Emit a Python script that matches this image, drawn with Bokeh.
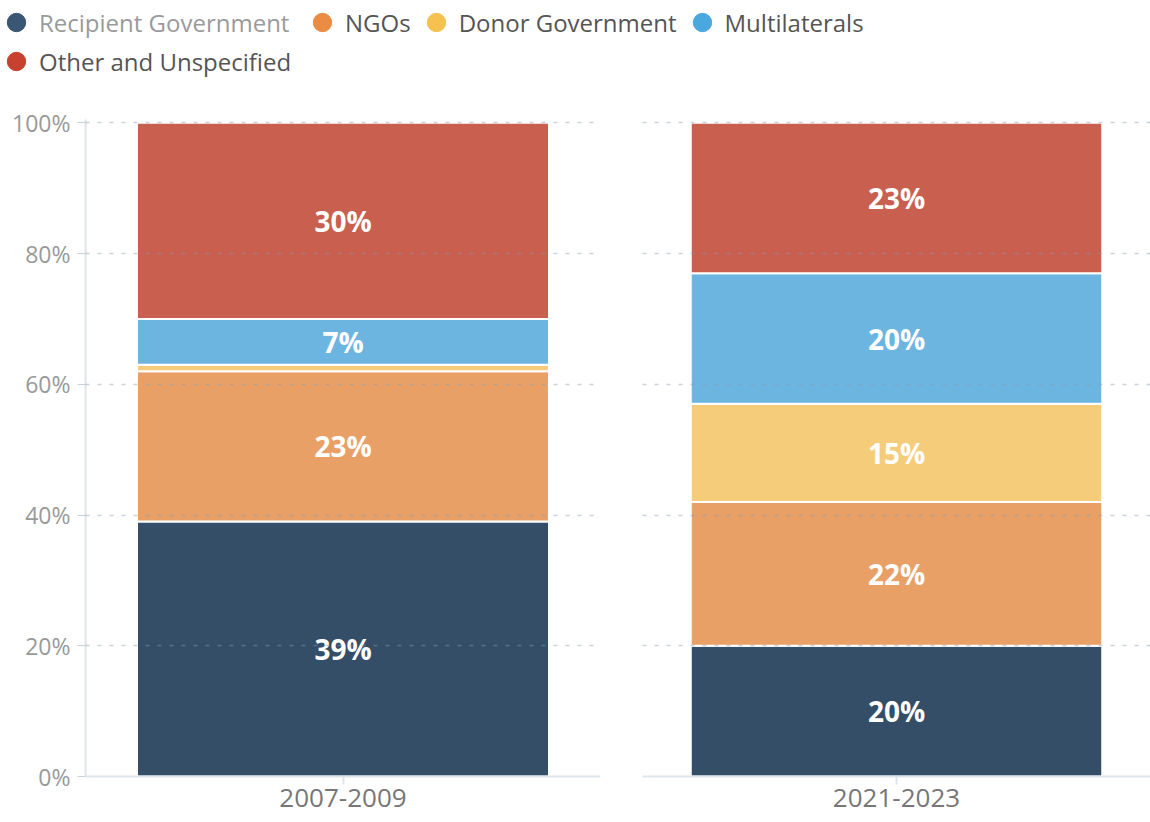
import numpy as np
from bokeh.plotting import figure
from bokeh.models import (ColumnDataSource, FactorRange, Range1d, Legend, LegendItem,
                          FixedTicker, PrintfTickFormatter)
from bokeh.layouts import column, row
from bokeh.embed import file_html
from bokeh.resources import INLINE
from bokeh.core.properties import value

# ---------------- data ----------------
periods = ["2007-2009", "2021-2023"]
series_names = ["Recipient Government", "NGOs", "Donor Government",
                "Multilaterals", "Other and Unspecified"]
series_keys = ["recipient", "ngos", "donor", "multilaterals", "other"]
recipient = [39, 20]
ngos = [23, 22]
donor = [1, 15]
multilaterals = [7, 20]
other = [30, 23]
y_ticks = [0, 20, 40, 60, 80, 100]

bar_colors = ["#344e68", "#e9a067", "#f5cd7a", "#6cb5e0", "#c85f4f"]
legend_colors = ["#3a5675", "#eb8c44", "#f5c24f", "#4aa8de", "#c8412e"]

FONT = "Open Sans"
GRID = "#8a9bb0"
AXIS = "#dfe5ec"

data = {"period": periods, "recipient": recipient, "ngos": ngos, "donor": donor,
        "multilaterals": multilaterals, "other": other}


def make_panel(idx, show_y, left_border, frame_w, bar_w):
    src = ColumnDataSource({k: [v[idx]] for k, v in data.items()})
    p = figure(x_range=FactorRange(factors=[periods[idx]]), y_range=Range1d(0, 100.5),
               frame_width=frame_w, frame_height=657,
               min_border_left=left_border, min_border_right=0,
               min_border_top=27, min_border_bottom=46,
               output_backend="svg", toolbar_location=None)
    p.outline_line_color = None
    p.background_fill_color = "white"
    p.border_fill_color = "white"

    p.vbar_stack(series_keys, x="period", width=bar_w, color=bar_colors,
                 line_color="white", line_width=2, source=src)

    vals = [data[k][idx] for k in series_keys]
    cum = np.cumsum([0] + vals)
    xs, ys, texts = [], [], []
    for i, v in enumerate(vals):
        if v >= 3:
            xs.append(periods[idx])
            ys.append((cum[i] + cum[i + 1]) / 2)
            texts.append(f"{v}%")
    lab = ColumnDataSource(dict(x=xs, y=ys, text=texts))
    p.text(x="x", y="y", text="text", source=lab, text_align="center",
           text_baseline="middle", text_color="white", text_font=value(FONT),
           text_font_style="bold", text_font_size="28px")

    p.xgrid.visible = False
    p.ygrid.ticker = FixedTicker(ticks=[t for t in y_ticks if t > 0])
    p.ygrid.grid_line_color = GRID
    p.ygrid.grid_line_alpha = 0.45
    p.ygrid.grid_line_dash = "4 8"
    p.ygrid.grid_line_width = 1.5
    p.ygrid.level = "overlay"

    xa = p.xaxis[0]
    xa.axis_line_color = AXIS
    xa.axis_line_width = 2
    xa.major_tick_in = 0
    xa.major_tick_out = 8
    xa.major_tick_line_color = AXIS
    xa.major_tick_line_width = 2
    xa.minor_tick_line_color = None
    xa.major_label_text_font = FONT
    xa.major_label_text_font_size = "26px"
    xa.major_label_text_color = "#777777"
    xa.major_label_standoff = 4

    ya = p.yaxis[0]
    if show_y:
        ya.ticker = FixedTicker(ticks=y_ticks)
        ya.formatter = PrintfTickFormatter(format="%d%%")
        ya.axis_line_color = AXIS
        ya.axis_line_width = 2
        ya.major_tick_in = 0
        ya.major_tick_out = 8
        ya.major_tick_line_color = "#c6cfda"
        ya.minor_tick_line_color = None
        ya.major_label_text_font = FONT
        ya.major_label_text_font_size = "23px"
        ya.major_label_text_color = "#999999"
        ya.major_label_standoff = 7
    else:
        ya.visible = False
    return p


left = make_panel(0, True, 85, 515, 0.8)
right = make_panel(1, False, 42, 508, 0.81)

# ---------------- legend figure ----------------
lg = figure(width=1150, height=92, x_range=Range1d(0, 1), y_range=Range1d(0, 1),
            min_border=0, output_backend="svg", toolbar_location=None)
lg.axis.visible = False
lg.grid.visible = False
lg.outline_line_color = None

# proxy renderers (no visible data) used only for legend swatches
rends = [lg.scatter(x=[np.nan], y=[np.nan], marker="circle", size=20,
                    fill_color=c, line_color=c)
         for c in legend_colors]


def make_legend(indices, loc, color):
    leg = Legend(items=[LegendItem(label=series_names[i], renderers=[rends[i]]) for i in indices],
                 location=loc, orientation="horizontal",
                 glyph_width=46, glyph_height=46, label_standoff=0,
                 label_text_font=FONT, label_text_font_size="24px",
                 label_text_color=color, padding=0, margin=0, spacing=2,
                 border_line_color=None, background_fill_alpha=0)
    lg.add_layout(leg)


make_legend([0], (-7, 47), "#9a9a9a")
make_legend([1, 2, 3], (299, 47), "#555555")
make_legend([4], (-7, 8), "#555555")

layout = column(lg, row(left, right))

with open("out.html", "w") as f:
    f.write(file_html(layout, INLINE))
